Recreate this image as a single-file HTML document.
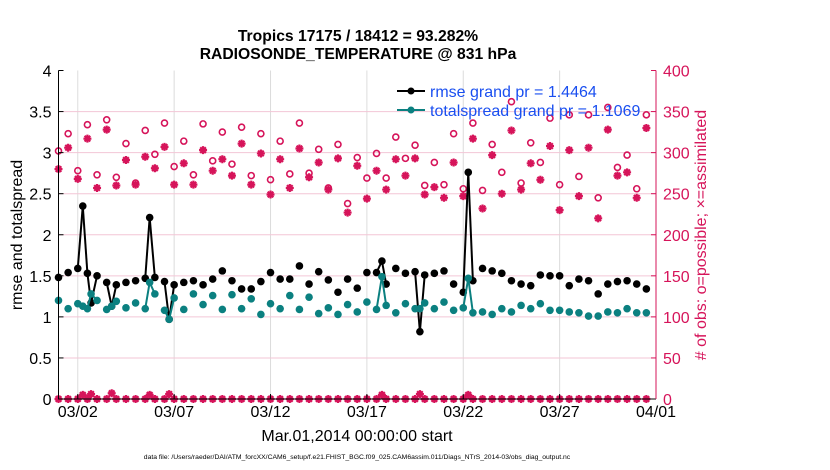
<!DOCTYPE html>
<html><head><meta charset="utf-8"><style>
body{margin:0;background:#fff;}
svg{display:block;font-family:"Liberation Sans",Arial,sans-serif;}
</style></head><body>
<svg id="chart" width="830" height="470" viewBox="0 0 830 470" xmlns="http://www.w3.org/2000/svg">
<rect width="830" height="470" fill="#fff"/>
<text x="358" y="41" text-anchor="middle" font-size="15.7" font-weight="bold">Tropics 17175 / 18412 = 93.282%</text>
<text x="358" y="59" text-anchor="middle" font-size="15.7" font-weight="bold">RADIOSONDE_TEMPERATURE @ 831 hPa</text>
<g id="grid"></g>
<g id="marks"></g>
<g id="axes"></g>
<text transform="translate(22,235) rotate(-90)" text-anchor="middle" font-size="16">rmse and totalspread</text>
<text transform="translate(706,235) rotate(-90)" text-anchor="middle" font-size="16" fill="#d6145a"># of obs: o=possible; ×=assimilated</text>
<text x="357" y="441" text-anchor="middle" font-size="16">Mar.01,2014 00:00:00 start</text>
<text x="357" y="459" text-anchor="middle" font-size="6.8">data file: /Users/raeder/DAI/ATM_forcXX/CAM6_setup/f.e21.FHIST_BGC.f09_025.CAM6assim.011/Diags_NTrS_2014-03/obs_diag_output.nc</text>
<g>
<line x1="397" y1="91" x2="425" y2="91" stroke="#000" stroke-width="2"/><circle cx="411" cy="91" r="3.5" fill="#000"/>
<text x="430" y="97" font-size="16" fill="#1a4ff0">rmse grand pr = 1.4464</text>
<line x1="397" y1="110" x2="425" y2="110" stroke="#0b8080" stroke-width="2"/><circle cx="411" cy="110" r="3.5" fill="#0b8080"/>
<text x="430" y="116" font-size="16" fill="#1a4ff0">totalspread grand pr = 1.1069</text>
</g>
</svg>
<script>
const days=[0,0.5,1,1.26,1.5,1.69,2,2.5,2.76,3,3.5,4,4.5,4.73,5,5.5,5.74,6,6.5,7,7.5,8,8.5,9,9.5,10,10.5,11,11.5,12,12.5,13,13.5,14,14.5,15,15.5,16,16.5,16.78,17,17.5,18,18.5,18.75,19,19.5,20,20.5,21,21.26,21.5,22,22.5,23,23.5,24,24.5,25,25.5,26,26.5,27,27.5,28,28.5,29,29.5,30,30.5];
const rmse=[1.48,1.54,1.59,2.35,1.53,1.17,1.50,1.42,1.13,1.39,1.42,1.44,1.47,2.21,1.48,1.43,0.97,1.39,1.42,1.44,1.39,1.46,1.56,1.44,1.34,1.34,1.43,1.54,1.46,1.46,1.62,1.40,1.55,1.45,1.30,1.46,1.35,1.54,1.54,1.68,1.40,1.59,1.53,1.55,0.82,1.51,1.53,1.56,1.40,1.30,2.76,1.44,1.59,1.56,1.53,1.44,1.40,1.38,1.51,1.50,1.50,1.38,1.46,1.44,1.28,1.40,1.43,1.44,1.40,1.34];
const spread=[1.20,1.10,1.16,1.13,1.10,1.28,1.20,1.09,1.13,1.19,1.11,1.17,1.10,1.42,1.28,1.08,0.97,1.23,1.09,1.28,1.15,1.26,1.09,1.27,1.10,1.22,1.03,1.16,1.10,1.26,1.09,1.24,1.04,1.11,1.03,1.15,1.06,1.18,1.09,1.49,1.14,1.05,1.16,1.10,1.10,1.17,1.10,1.18,1.08,1.11,1.47,1.05,1.06,1.03,1.10,1.06,1.14,1.10,1.16,1.08,1.08,1.06,1.05,1.01,1.01,1.06,1.05,1.10,1.05,1.05];
const obsDays=[0,0.5,1,1.5,2,2.5,3,3.5,4,4.5,5,5.5,6,6.5,7,7.5,8,8.5,9,9.5,10,10.5,11,11.5,12,12.5,13,13.5,14,14.5,15,15.5,16,16.5,17,17.5,18,18.5,19,19.5,20,20.5,21,21.5,22,22.5,23,23.5,24,24.5,25,25.5,26,26.5,27,27.5,28,28.5,29,29.5,30,30.5];
const possible=[302,323,278,334,273,340,270,311,263,327,298,336,283,314,273,335,290,325,286,331,272,323,267,314,274,336,275,304,257,310,238,294,269,299,269,319,293,309,260,288,261,323,256,336,254,310,276,362,263,312,288,342,261,346,271,346,245,355,282,297,256,346];
const assimilated=[280,306,268,317,257,328,260,291,261,295,281,307,261,287,261,303,278,292,272,311,261,299,249,292,257,305,270,288,255,293,227,284,244,278,255,292,272,293,249,258,245,288,247,317,232,297,250,327,255,287,267,308,230,303,247,306,220,328,272,276,245,330];
const offDays=[1.26,1.69,2.76,4.73,5.74,16.78,18.75,21.26];
const offCounts=[5,6,7,5,6,5,6,5];
const xTickDays=[1,6,11,16,21,26,31];
const xTickLabels=["03/02","03/07","03/12","03/17","03/22","03/27","04/01"];
const yLeftTicks=[0,0.5,1,1.5,2,2.5,3,3.5,4];
const yLeftLabels=["0","0.5","1","1.5","2","2.5","3","3.5","4"];
const yRightTicks=[0,50,100,150,200,250,300,350,400];
const yRightLabels=["0","50","100","150","200","250","300","350","400"];

const L=58.5,R=656,T=70.5,B=399;
const xs=d=>L+d*(R-L)/31;
const yl=v=>B-v*(B-T)/4;
const yr=n=>B-n*(B-T)/400;
const NS="http://www.w3.org/2000/svg";
const PINK="#d6145a",TEAL="#0b8080";
function mk(tag,attrs,parent){const e=document.createElementNS(NS,tag);for(const k in attrs)e.setAttribute(k,attrs[k]);parent.appendChild(e);return e;}
const grid=document.getElementById('grid'),marks=document.getElementById('marks'),axes=document.getElementById('axes');

xTickDays.forEach((d,i)=>{
  const g=mk('line',{x1:xs(d),x2:xs(d),y1:T,y2:B,stroke:'#dcdcdc','stroke-width':1},grid);
  
  
  const t=mk('line',{x1:xs(d),x2:xs(d),y1:B,y2:B-5,stroke:'#000','stroke-width':1},axes);
  
  
  const tx=mk('text',{x:xs(d),y:B+18,'text-anchor':'middle','font-size':16},axes);
  tx.textContent=xTickLabels[i];
  
  
});
yRightTicks.forEach((n,i)=>{
  if(n>0&&n<400){const g=mk('line',{x1:L,x2:R,y1:yr(n),y2:yr(n),stroke:'#f3c6d6','stroke-width':1},grid);
  
  }
  const t=mk('line',{x1:R,x2:R-5,y1:yr(n),y2:yr(n),stroke:PINK,'stroke-width':1},axes);
  
  
  const tx=mk('text',{x:R+7,y:yr(n)+6,'font-size':16,fill:PINK},axes);
  tx.textContent=yRightLabels[i];
  
  
});
yLeftTicks.forEach((v,i)=>{
  const t=mk('line',{x1:L,x2:L+5,y1:yl(v),y2:yl(v),stroke:'#000','stroke-width':1},axes);
  
  
  const tx=mk('text',{x:L-7,y:yl(v)+6,'text-anchor':'end','font-size':16},axes);
  tx.textContent=yLeftLabels[i];
  
  
});
const ax1=mk('path',{d:`M${L},${T}V${B}H${R}`,fill:'none',stroke:'#000','stroke-width':1},axes);


const ax2=mk('line',{x1:R,x2:R,y1:T,y2:B,stroke:PINK,'stroke-width':1},axes);



function star(cx,cy,name){
  const r=4,d=r*0.707;
  const p=mk('path',{d:`M${cx-r},${cy}H${cx+r}M${cx},${cy-r}V${cy+r}M${cx-d},${cy-d}L${cx+d},${cy+d}M${cx-d},${cy+d}L${cx+d},${cy-d}`,stroke:PINK,'stroke-width':2.2,fill:'none'},marks);
  
  
}
function ring(cx,cy,name){
  const c=mk('circle',{cx:cx,cy:cy,r:3,fill:'none',stroke:PINK,'stroke-width':1.6},marks);
  
  
}
obsDays.forEach((d,i)=>{
  ring(xs(d),yr(possible[i]),'possible-obs-marker');
  star(xs(d),yr(assimilated[i]),'assimilated-obs-marker');
  star(xs(d),yr(0),'bottom-count-marker');
  const c=mk('circle',{cx:xs(d),cy:yr(0),r:3,fill:PINK},marks);
  
  
});
offDays.forEach((d,i)=>{
  star(xs(d),yr(offCounts[i]),'offcycle-count-marker');
  const c=mk('circle',{cx:xs(d),cy:yr(offCounts[i]),r:3,fill:PINK},marks);
  
  
});
function series(vals,color,name){
  for(let i=1;i<days.length;i++){
    if(days[i]-days[i-1]<0.45){
      const l=mk('line',{x1:xs(days[i-1]),y1:yl(vals[i-1]),x2:xs(days[i]),y2:yl(vals[i]),stroke:color,'stroke-width':2},marks);
      
      
    }
  }
  days.forEach((d,i)=>{
    const c=mk('circle',{cx:xs(d),cy:yl(vals[i]),r:3.8,fill:color},marks);
    
    
  });
}
series(rmse,'#000','rmse');
series(spread,TEAL,'totalspread');
</script>
</body></html>
